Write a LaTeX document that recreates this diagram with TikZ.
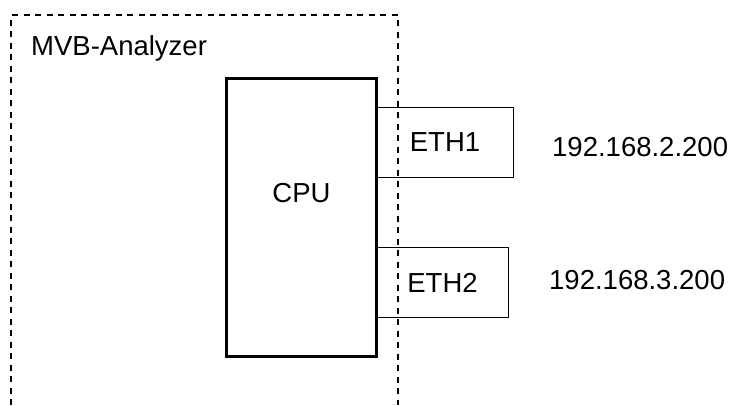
\documentclass[tikz,border=0pt]{standalone}
\usepackage{fontspec}
\setmainfont{Liberation Sans}
\usetikzlibrary{positioning}

\begin{document}
\begin{tikzpicture}[
    x=1pt, y=-1pt,
    cpubox/.style={rectangle, draw, line width=3.2pt, minimum width=150pt, minimum height=278pt, inner sep=0pt},
    ethbox/.style={rectangle, draw, line width=1.5pt, minimum height=70pt, inner sep=0pt, font=\fontsize{27.5}{32}\selectfont},
    txt/.style={inner sep=0pt, font=\fontsize{27.5}{32}\selectfont},
    frame/.style={line width=1.5pt, dash pattern=on 6pt off 5.5pt}
  ]
    \useasboundingbox (0,0) rectangle (731,405);

    % Board label
    \node[txt, anchor=base west] (title) at (31,55) {MVB-Analyzer};

    % CPU
    \node[cpubox] (cpu) at (301.5,217.5) {};
    \node[txt] (cputext) at (301.5,193) {CPU};

    % Ethernet ports
    \node[ethbox, minimum width=137pt] (eth1) at (445,142.5) {ETH1};
    \node[ethbox, minimum width=132pt] (eth2) at (442.5,282.5) {ETH2};

    % Addresses
    \node[txt, anchor=west] (ip1) at (552,147.5) {192.168.2.200};
    \node[txt, anchor=west] (ip2) at (549,280) {192.168.3.200};

    % Board outline (open at the bottom)
    \draw[frame] (11,405) -- (11,15) -- (398,15) -- (398,405);
  \end{tikzpicture}
\end{document}
